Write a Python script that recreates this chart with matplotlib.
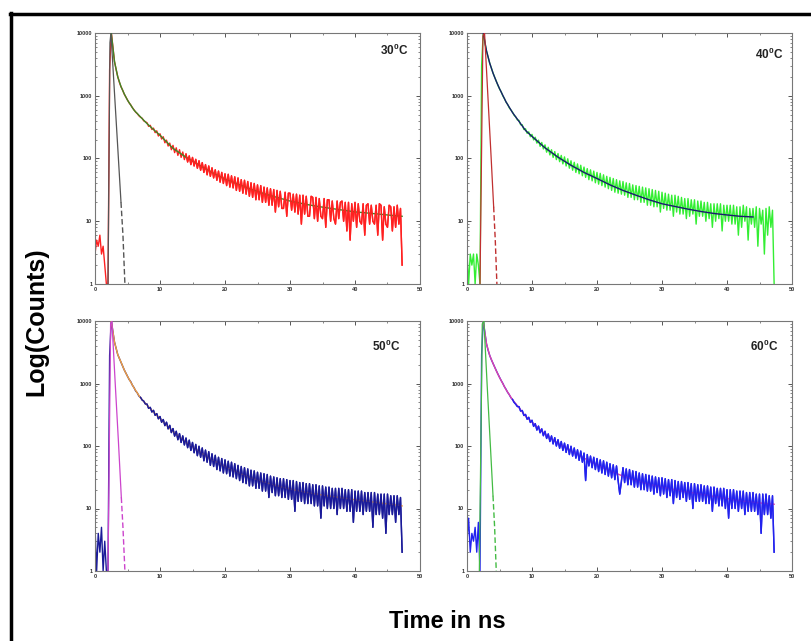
import numpy as np
import matplotlib
matplotlib.use("Agg")
import matplotlib.pyplot as plt
from matplotlib.lines import Line2D
from matplotlib.ticker import MultipleLocator, LogLocator, FuncFormatter, NullFormatter

plt.rcParams['font.family'] = ['Liberation Sans', 'DejaVu Sans']
plt.rcParams['mathtext.fontset'] = 'custom'
plt.rcParams['mathtext.bf'] = 'Liberation Sans:bold'

# decay counts, one value every 0.25 ns starting at t = 0 (one row per ns)
counts_30 = [
    3, 5, 4, 6,   3, 4, 2, 1,   1, 2600, 10500, 6000,   3500, 2620, 2010, 1640,
    1390, 1230, 1060, 955,   855, 770, 715, 645,   598, 548, 520, 480,
    455, 438, 398, 385,   372, 325, 338, 290,   305, 258, 276, 228,
    248, 204, 222, 178,   196, 158, 176, 138,   162, 124, 148, 112,
    138, 104, 127, 96,   118, 88, 110, 80,   104, 76, 97, 70,
    92, 65, 86, 60,   80, 55, 76, 52,   71, 49, 66, 45,
    63, 42, 60, 40,   57, 37, 56, 35,   53, 34, 51, 31,
    49, 30, 46, 28,   45, 27, 43, 25,   41, 24, 40, 22,
    38, 22, 37, 20,   35, 20, 34, 18,   33, 18, 32, 14,
    31, 17, 30, 16,   16, 29, 12, 28,   28, 15, 27, 14,
    27, 13, 26, 9,   26, 13, 25, 12,   12, 25, 24, 11,
    24, 10, 23, 12,   11, 23, 8, 22,   22, 10, 21, 11,
    9, 21, 11, 20,   21, 10, 20, 7,   20, 5, 19, 10,
    20, 8, 19, 10,   9, 19, 6, 18,   19, 9, 18, 10,
    9, 18, 6, 19,   18, 5, 17, 9,   8, 18, 17, 7,
    17, 8, 18, 9,   16, 2,
]
counts_40 = [
    3, 1, 3, 2,   3, 1, 3, 2,   1, 3000, 10500, 7000,   5150, 4120, 3280, 2770,
    2310, 1980, 1720, 1470,   1290, 1160, 1000, 905,   795, 728, 642, 596,
    548, 488, 460, 412,   405, 345, 345, 290,   298, 252, 266, 222,
    242, 198, 218, 176,   196, 156, 180, 142,   165, 126, 151, 114,
    138, 104, 129, 96,   120, 89, 112, 82,   106, 76, 99, 70,
    92, 65, 87, 60,   82, 57, 78, 53,   73, 50, 69, 46,
    66, 44, 63, 41,   60, 39, 58, 37,   55, 35, 52, 33,
    50, 31, 48, 29,   46, 28, 44, 27,   43, 26, 41, 24,
    40, 24, 38, 22,   37, 22, 36, 20,   35, 20, 34, 18,
    33, 18, 32, 17,   31, 17, 30, 14,   29, 16, 28, 15,
    27, 15, 26, 12,   26, 14, 25, 13,   24, 13, 23, 11,
    23, 12, 22, 13,   22, 9, 21, 12,   21, 12, 20, 10,
    20, 11, 19, 8,   19, 10, 19, 11,   19, 7, 18, 10,
    18, 10, 18, 9,   18, 9, 17, 6,   17, 8, 18, 10,
    17, 5, 16, 9,   16, 8, 17, 4,   16, 9, 15, 3,
    16, 6, 17, 8,   15, 1,
]
counts_50 = [
    5, 1, 4, 2,   5, 1, 3, 1,   1, 2800, 10500, 6800,   4600, 3650, 2900, 2520,
    2200, 1900, 1650, 1470,   1310, 1160, 1070, 940,   860, 760, 710, 630,
    600, 545, 522, 470,   468, 400, 415, 350,   372, 310, 330, 272,
    296, 240, 265, 212,   240, 188, 214, 164,   190, 144, 172, 126,
    158, 114, 145, 104,   134, 94, 124, 85,   114, 78, 106, 70,
    99, 66, 93, 58,   86, 55, 81, 49,   75, 47, 71, 42,
    66, 40, 63, 37,   60, 36, 57, 33,   55, 32, 52, 30,
    49, 28, 47, 26,   45, 25, 43, 23,   41, 23, 40, 21,
    38, 21, 37, 19,   36, 19, 35, 15,   33, 18, 32, 16,
    31, 16, 30, 15,   30, 15, 29, 14,   28, 14, 28, 9,
    27, 13, 26, 13,   26, 12, 25, 12,   25, 12, 24, 11,
    24, 11, 23, 7,   23, 11, 22, 10,   22, 10, 21, 10,
    21, 8, 21, 10,   21, 10, 20, 9,   20, 9, 20, 6,
    19, 9, 19, 9,   19, 8, 18, 9,   18, 9, 18, 5,
    18, 8, 17, 8,   17, 7, 17, 4,   17, 8, 16, 8,
    16, 6, 16, 8,   15, 2,
]
counts_60 = [
    3, 7, 2, 4,   3, 5, 2, 6,   1, 2900, 10500, 6500,   4300, 3400, 2800, 2400,
    2110, 1840, 1610, 1420,   1260, 1120, 1010, 890,   810, 722, 664, 592,
    556, 498, 466, 428,   426, 362, 370, 308,   320, 268, 288, 238,
    258, 206, 228, 180,   208, 163, 188, 146,   172, 132, 156, 118,
    145, 108, 136, 100,   126, 92, 118, 85,   111, 79, 105, 73,
    99, 69, 93, 64,   87, 59, 83, 55,   77, 28, 73, 48,
    69, 45, 66, 42,   63, 39, 60, 37,   58, 35, 55, 33,
    52, 31, 50, 29,   48, 28, 17, 27,   45, 26, 43, 24,
    42, 24, 40, 22,   39, 22, 37, 20,   36, 20, 35, 19,
    34, 19, 33, 17,   32, 18, 31, 16,   31, 17, 30, 15,
    29, 16, 29, 12,   28, 15, 27, 14,   27, 15, 26, 13,
    26, 14, 25, 10,   25, 13, 24, 13,   24, 13, 23, 12,
    23, 12, 22, 9,   22, 12, 21, 11,   21, 11, 21, 10,
    20, 7, 20, 10,   20, 10, 19, 9,   19, 10, 19, 8,
    18, 9, 18, 9,   18, 9, 17, 8,   17, 4, 17, 8,
    17, 8, 16, 7,   16, 2,
]

# fitted decay curves
fit_t = [2.5, 3, 3.5, 4, 4.5, 5, 6, 7, 8, 9, 10, 12, 14, 16, 18, 20, 22, 24,
         26, 28, 30, 32, 34, 36, 38, 40, 42, 44, 46, 47.25]
fit_30 = [10000, 3500, 2000, 1400, 1070, 850, 590, 460, 360, 290, 235, 145, 105,
          79, 60, 47, 39, 32.4, 27.5, 24, 21, 19, 17.4, 16.2, 15.1, 14.1, 13.5,
          12.9, 12.3, 12]
fit_40 = [10000, 5200, 3300, 2300, 1700, 1300, 800, 540, 390, 280, 225, 148, 105,
          78, 60, 48, 38, 31, 26, 22, 19, 17.2, 15.6, 14.3, 13.3, 12.6, 12, 11.7]
fit_50 = [10000, 4600, 2900, 2200, 1650, 1300, 850, 590, 450, 350, 275, 170, 115,
          82, 60, 47, 37.5, 31, 26.5, 23, 20.5, 18.5, 17, 15.8, 14.8, 13.8, 13,
          12.2, 11.5, 11]
fit_60 = [10000, 4300, 2800, 2100, 1600, 1250, 800, 550, 410, 300, 240, 155, 110,
          84, 64, 50, 40, 33, 28, 24.5, 22, 20, 18.3, 17, 15.6, 14.4, 13.3, 12.6,
          12, 11.7]

# instrument response (prompt) curves
irf_t_30 = [2.0, 2.3, 2.45, 3.0, 3.5, 4.0, 4.3, 4.6]
irf_30 = [1, 7000, 10000, 1100, 150, 20, 6, 1]
irf_t_40 = [2.0, 2.45, 2.7, 3.2, 3.7, 4.1, 4.35, 4.6]
irf_40 = [1, 9000, 10000, 1050, 110, 17, 5, 1]
irf_t_50 = [2.0, 2.4, 2.6, 3.1, 3.6, 4.05, 4.3, 4.6]
irf_50 = [1, 9000, 10000, 1050, 120, 15, 5, 1]
irf_t_60 = [1.9, 2.35, 2.6, 3.1, 3.6, 4.0, 4.25, 4.5]
irf_60 = [1, 9000, 10000, 950, 100, 16, 5, 1]

temps = ['30', '40', '50', '60']
counts = [counts_30, counts_40, counts_50, counts_60]
fits = [fit_30, fit_40, fit_50, fit_60]
irf_ts = [irf_t_30, irf_t_40, irf_t_50, irf_t_60]
irfs = [irf_30, irf_40, irf_50, irf_60]

data_colors = ['#ff2020', '#33ee33', '#1a1a99', '#2222ee']
fit_colors = ['#3b8a28', '#1a1a6e', '#f0a040', '#dd44aa']
irf_colors = ['#555555', '#c03030', '#cc44cc', '#44bb44']
# from where the noisy data is drawn over the fit (None: fit stays on top)
cover_from = [14, None, 7, 7]

W, H = 811, 641
fig = plt.figure(figsize=(W / 100, H / 100), dpi=100)

# axes rectangles in pixels (left, top, right, bottom)
boxes = [(95, 33, 420, 284), (467, 33, 792, 284),
         (95, 321, 420, 571), (467, 321, 792, 571)]
label_pos = [(0.965, 0.93), (0.972, 0.916), (0.938, 0.90), (0.957, 0.90)]

for i in range(4):
    l, tp, r, b = boxes[i]
    ax = fig.add_axes([l / W, 1 - b / H, (r - l) / W, (b - tp) / H])
    y = np.array(counts[i], dtype=float)
    t = 0.25 * np.arange(len(y))
    ax.plot(t, y, color=data_colors[i], lw=1.0, zorder=2)
    ft = fit_t[:len(fits[i])]
    ax.plot(ft, fits[i], color=fit_colors[i], lw=1.0, zorder=3)
    if cover_from[i] is not None:
        tail = t >= cover_from[i]
        ax.plot(t[tail], y[tail], color=data_colors[i], lw=1.0, zorder=4)
    it, iv = irf_ts[i], irfs[i]
    ax.plot(it[:6], iv[:6], color=irf_colors[i], lw=0.9, zorder=3)
    ax.plot(it[5:], iv[5:], color=irf_colors[i], lw=1.0, ls=(0, (4, 2)), zorder=3)

    ax.set_yscale('log')
    ax.set_xlim(0, 50)
    ax.set_ylim(1, 10000)
    ax.xaxis.set_major_locator(MultipleLocator(10))
    ax.xaxis.set_minor_locator(MultipleLocator(5))
    ax.yaxis.set_major_locator(LogLocator(base=10))
    ax.yaxis.set_minor_locator(LogLocator(base=10, subs=np.arange(2, 10)))
    ax.yaxis.set_major_formatter(FuncFormatter(lambda v, p: '%d' % round(v)))
    ax.yaxis.set_minor_formatter(NullFormatter())
    ax.tick_params(which='both', direction='in', top=True, right=True,
                   labelsize=4, colors='#555555', labelcolor='#333333', pad=2)
    ax.tick_params(which='major', length=3, width=0.7)
    ax.tick_params(which='minor', length=1.6, width=0.5)
    for lab in ax.get_xticklabels() + ax.get_yticklabels():
        lab.set_fontweight('bold')
    for s in ax.spines.values():
        s.set_color('#777777')
        s.set_linewidth(0.8)
    ax.text(label_pos[i][0], label_pos[i][1], temps[i] + r'$^{\mathbf{0}}$C',
            transform=ax.transAxes, ha='right', va='center',
            fontsize=8.5, fontweight='bold', color='#222222')

fig.text(36 / W, 1 - 322 / H, 'Log(Counts)', rotation=90, fontsize=18,
         fontweight='bold', ha='center', va='center')
fig.text(447 / W, 1 - 621 / H, 'Time in ns', fontsize=17,
         fontweight='bold', ha='center', va='center')

# outer frame (top and left edges visible)
fig.add_artist(Line2D([10 / W, 1], [1 - 13.5 / H] * 2, transform=fig.transFigure,
                      color='black', lw=2.5))
fig.add_artist(Line2D([10.5 / W] * 2, [0, 1 - 12.5 / H], transform=fig.transFigure,
                      color='black', lw=2.5))

fig.savefig('out.png', dpi=100)
